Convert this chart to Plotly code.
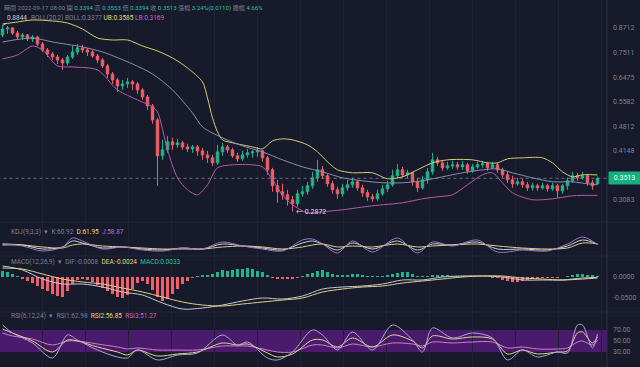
import math
import plotly.graph_objects as go

# ---------------- price data (4h candles) ----------------
idx = list(range(120))
open_ = [0.8352,0.8660,0.8712,0.8453,0.8252,0.8352,0.8153,0.8252,0.7910,0.7629,
         0.7447,0.7313,0.7182,0.7053,0.7313,0.7537,0.7721,0.7629,0.7537,0.7357,
         0.7182,0.6926,0.6599,0.6365,0.6138,0.6213,0.6288,0.6213,0.5992,0.5744,
         0.5440,0.4999,0.4023,0.4171,0.4378,0.4299,0.4351,0.4247,0.4196,0.4247,
         0.4146,0.4047,0.3975,0.3856,0.4121,0.4247,0.4171,0.4023,0.3951,0.4047,
         0.4096,0.4121,0.4146,0.3975,0.3697,0.3357,0.3238,0.3179,0.3085,0.3011,
         0.3199,0.3238,0.3357,0.3523,0.3697,0.3566,0.3398,0.3277,0.3199,0.3317,
         0.3377,0.3439,0.3317,0.3218,0.3141,0.3103,0.3199,0.3297,0.3377,0.3566,
         0.3697,0.3587,0.3631,0.3439,0.3317,0.3481,0.3653,0.3927,0.3856,0.3742,
         0.3787,0.3810,0.3764,0.3810,0.3675,0.3764,0.3810,0.3833,0.3742,0.3810,
         0.3697,0.3587,0.3481,0.3398,0.3439,0.3377,0.3317,0.3357,0.3317,0.3357,
         0.3297,0.3357,0.3257,0.3357,0.3460,0.3566,0.3523,0.3566,0.3419,0.3394]
close = [0.8660,0.8712,0.8453,0.8252,0.8352,0.8153,0.8252,0.7910,0.7629,0.7447,
         0.7313,0.7182,0.7053,0.7313,0.7537,0.7721,0.7629,0.7537,0.7357,0.7182,
         0.6926,0.6599,0.6365,0.6138,0.6213,0.6288,0.6213,0.5992,0.5744,0.5440,
         0.4999,0.4023,0.4171,0.4378,0.4299,0.4351,0.4247,0.4196,0.4247,0.4146,
         0.4047,0.3975,0.3856,0.4121,0.4247,0.4171,0.4023,0.3951,0.4047,0.4096,
         0.4121,0.4146,0.3975,0.3697,0.3357,0.3238,0.3179,0.3085,0.3011,0.3199,
         0.3238,0.3357,0.3523,0.3697,0.3566,0.3398,0.3277,0.3199,0.3317,0.3377,
         0.3439,0.3317,0.3218,0.3141,0.3103,0.3199,0.3297,0.3377,0.3566,0.3697,
         0.3587,0.3631,0.3439,0.3317,0.3481,0.3653,0.3927,0.3856,0.3742,0.3787,
         0.3810,0.3764,0.3810,0.3675,0.3764,0.3810,0.3833,0.3742,0.3810,0.3697,
         0.3587,0.3481,0.3398,0.3439,0.3377,0.3317,0.3357,0.3317,0.3357,0.3297,
         0.3357,0.3257,0.3357,0.3460,0.3566,0.3523,0.3566,0.3419,0.3357,0.3513]
high = [0.8844,0.8818,0.8765,0.8556,0.8453,0.8402,0.8352,0.8301,0.8006,0.7721,
        0.7537,0.7402,0.7269,0.7402,0.7815,0.7910,0.7862,0.7721,0.7629,0.7447,
        0.7269,0.7010,0.6680,0.6442,0.6365,0.6442,0.6365,0.6288,0.6065,0.5814,
        0.5506,0.5060,0.4431,0.4539,0.4485,0.4458,0.4404,0.4325,0.4299,0.4299,
        0.4222,0.4146,0.4047,0.4299,0.4351,0.4299,0.4222,0.4096,0.4146,0.4196,
        0.4171,0.4247,0.4171,0.4023,0.3742,0.3481,0.3398,0.3277,0.3160,0.3277,
        0.3357,0.3439,0.3653,0.3927,0.3787,0.3609,0.3460,0.3337,0.3398,0.3481,
        0.3523,0.3481,0.3377,0.3277,0.3199,0.3277,0.3377,0.3460,0.3697,0.3833,
        0.3764,0.3697,0.3653,0.3523,0.3566,0.3742,0.4096,0.3999,0.3927,0.3880,
        0.3903,0.3880,0.3903,0.3856,0.3833,0.3880,0.3903,0.3880,0.3880,0.3856,
        0.3742,0.3653,0.3566,0.3523,0.3502,0.3439,0.3419,0.3398,0.3419,0.3398,
        0.3419,0.3398,0.3398,0.3523,0.3653,0.3631,0.3653,0.3609,0.3481,0.3553]
low = [0.8252,0.8402,0.8352,0.8153,0.8103,0.8055,0.8006,0.7815,0.7537,0.7313,
       0.7182,0.7010,0.6761,0.6968,0.7225,0.7402,0.7492,0.7357,0.7269,0.7053,
       0.6843,0.6442,0.6213,0.5920,0.5992,0.6065,0.5992,0.5849,0.5641,0.5310,
       0.4880,0.3357,0.3927,0.4096,0.4171,0.4222,0.4171,0.4121,0.4096,0.4023,
       0.3927,0.3856,0.3787,0.3810,0.4023,0.4096,0.3975,0.3880,0.3903,0.3975,
       0.3975,0.3999,0.3880,0.3587,0.3238,0.3029,0.3085,0.2975,0.2872,0.2957,
       0.3141,0.3179,0.3297,0.3439,0.3502,0.3337,0.3199,0.3103,0.3141,0.3257,
       0.3317,0.3257,0.3141,0.3066,0.3048,0.3066,0.3160,0.3238,0.3337,0.3502,
       0.3523,0.3523,0.3357,0.3238,0.3277,0.3398,0.3587,0.3787,0.3675,0.3697,
       0.3720,0.3697,0.3697,0.3609,0.3631,0.3720,0.3742,0.3675,0.3720,0.3631,
       0.3523,0.3419,0.3317,0.3357,0.3317,0.3257,0.3257,0.3257,0.3277,0.3238,
       0.3257,0.3122,0.3199,0.3277,0.3419,0.3460,0.3481,0.3357,0.3277,0.3394]

# ---------------- BOLL(20,2) ----------------
ub_idx = [0,3,6,10,13,16,19,22,25,28,31,34,37,40,41,42,43,44,46,50,52,54,56,58,61,63,65,67,70,74,77,80,83,86,89,94,97,99,101,104,108,110,112,114,116,119]
ub_val = [0.8925,0.9035,0.9145,0.9089,0.8979,0.8660,0.8202,0.8103,0.8103,0.7815,0.7583,0.7269,0.6843,0.6288,0.5709,0.5060,0.4650,0.4431,0.4351,0.4247,0.4196,0.4404,0.4458,0.4431,0.4299,0.4121,0.3880,0.3697,0.3631,0.3631,0.3502,0.3544,0.3697,0.3856,0.3927,0.3927,0.3856,0.3856,0.3951,0.3975,0.3975,0.3856,0.3653,0.3544,0.3587,0.3585]
mid_idx = [0,6,10,16,20,26,30,34,38,40,44,48,52,56,60,64,68,72,76,80,84,88,92,96,99,102,106,110,114,117,119]
mid_val = [0.8006,0.8202,0.8006,0.7768,0.7537,0.7010,0.6599,0.5992,0.5215,0.4792,0.4485,0.4273,0.4121,0.3927,0.3764,0.3653,0.3523,0.3460,0.3419,0.3419,0.3460,0.3544,0.3631,0.3697,0.3720,0.3631,0.3523,0.3439,0.3439,0.3398,0.3377]
lb_idx = [0,3,6,8,11,14,19,23,27,30,31,33,35,37,39,41,43,46,50,52,54,56,58,61,64,68,74,80,84,87,90,93,96,98,100,102,106,110,114,119]
lb_val = [0.7225,0.7402,0.7815,0.7629,0.6926,0.6884,0.6761,0.5992,0.5641,0.5407,0.5247,0.4171,0.3523,0.3277,0.3179,0.3377,0.3742,0.3810,0.3810,0.3764,0.3481,0.3179,0.2993,0.2852,0.2869,0.2904,0.2975,0.3029,0.3103,0.3141,0.3179,0.3377,0.3587,0.3631,0.3419,0.3218,0.3085,0.3103,0.3160,0.3169]

# ---------------- KDJ(9,3,3) ----------------
kdj_idx = [0,4,8,12,14,16,20,24,28,32,36,40,44,48,52,56,60,62,64,67,70,74,79,83,86,90,95,99,104,109,113,116,119]
kdj_k = [61.5,56.8,37.9,47.4,75.6,66.2,42.6,47.4,37.9,33.2,42.6,37.9,61.5,52.1,42.6,33.2,66.2,75.6,61.5,33.2,66.2,37.9,75.6,33.2,61.5,56.8,70.9,37.9,37.9,33.2,52.1,80.3,60.92]
kdj_d = [56.8,56.8,47.4,42.6,56.8,61.5,52.1,47.4,42.6,37.9,37.9,37.9,47.4,52.1,47.4,37.9,47.4,56.8,61.5,47.4,52.1,47.4,61.5,47.4,52.1,56.8,61.5,52.1,42.6,37.9,42.6,66.2,61.95]
kdj_j = [61.5,52.1,28.5,47.4,89.7,75.6,37.9,47.4,33.2,28.5,42.6,37.9,70.9,52.1,37.9,28.5,80.3,85.0,61.5,19.1,75.6,23.8,89.7,19.1,70.9,52.1,80.3,23.8,33.2,28.5,61.5,94.4,58.87]

# ---------------- MACD(12,26,9) ----------------
macd_idx = [0,4,8,12,16,20,24,28,32,36,40,44,48,52,56,60,64,68,72,76,80,84,88,92,96,100,104,108,112,116,119]
dif = [0.0262,0.0167,-0.0048,-0.0167,-0.0167,-0.0238,-0.0357,-0.0429,-0.0619,-0.0762,-0.0738,-0.0667,-0.0571,-0.0500,-0.0524,-0.0452,-0.0286,-0.0238,-0.0214,-0.0167,-0.0071,-0.0071,0.0000,0.0024,0.0024,0.0000,-0.0071,-0.0071,-0.0071,-0.0024,-0.0008]
dea = [0.0214,0.0190,0.0071,-0.0048,-0.0119,-0.0167,-0.0262,-0.0357,-0.0476,-0.0595,-0.0667,-0.0690,-0.0643,-0.0595,-0.0548,-0.0500,-0.0357,-0.0286,-0.0238,-0.0214,-0.0143,-0.0095,-0.0048,0.0000,0.0024,0.0024,-0.0024,-0.0048,-0.0071,-0.0048,-0.0024]
macd_hist = [0.0143,0.0119,0.0071,0.0024,-0.0048,-0.0095,-0.0143,-0.0214,-0.0286,-0.0333,
             -0.0405,-0.0452,-0.0476,-0.0333,-0.0167,-0.0071,-0.0048,-0.0071,-0.0119,-0.0190,
             -0.0262,-0.0333,-0.0405,-0.0476,-0.0500,-0.0429,-0.0286,-0.0143,-0.0095,-0.0167,
             -0.0310,-0.0476,-0.0571,-0.0524,-0.0405,-0.0286,-0.0167,-0.0095,-0.0024,0.0024,
             0.0048,0.0048,0.0071,0.0119,0.0167,0.0143,0.0167,0.0190,0.0190,0.0214,
             0.0190,0.0143,0.0119,0.0048,-0.0024,-0.0048,-0.0048,-0.0048,-0.0048,-0.0024,
             0.0024,0.0071,0.0095,0.0143,0.0167,0.0119,0.0071,0.0048,0.0048,0.0048,
             0.0071,0.0071,0.0048,0.0024,0.0024,0.0024,0.0024,0.0048,0.0071,0.0095,
             0.0119,0.0119,0.0071,0.0024,0.0024,0.0024,0.0048,0.0048,0.0048,0.0048,
             0.0024,0.0024,0.0024,0.0012,0.0012,0.0012,0.0012,0.0012,-0.0012,-0.0024,
             -0.0071,-0.0095,-0.0119,-0.0119,-0.0095,-0.0071,-0.0048,-0.0048,-0.0024,-0.0012,
             -0.0012,-0.0012,0.0012,0.0024,0.0048,0.0071,0.0071,0.0048,0.0036,0.0033]

# ---------------- RSI(6,12,24) ----------------
rsi_idx = [0,2,6,10,13,15,19,23,25,27,31,35,39,44,47,49,53,55,58,62,64,67,70,74,78,82,84,86,90,94,98,101,104,107,111,113,115,116,118,119]
rsi1 = [79.1,64.5,46.4,19.1,60.9,51.8,33.6,20.9,19.1,33.6,15.5,24.5,28.2,60.9,42.7,48.2,19.1,15.5,30.0,70.0,60.9,33.6,66.4,33.6,79.1,51.8,30.0,73.6,55.5,64.5,55.5,15.5,33.6,20.9,30.0,28.2,79.1,79.1,37.3,62.98]
rsi2 = [71.8,64.5,50.0,30.0,51.8,50.0,39.1,30.0,24.5,33.6,22.7,26.4,30.0,46.4,42.7,44.5,28.2,20.9,26.4,51.8,51.8,39.1,55.5,39.1,60.9,50.0,37.3,59.1,53.6,57.3,53.6,26.4,33.6,26.4,30.0,31.8,64.5,66.4,46.4,56.85]
rsi3 = [64.5,59.1,53.6,42.7,50.0,50.0,44.5,39.1,35.5,37.3,33.6,33.6,33.6,40.9,40.9,40.9,33.6,30.0,30.0,42.7,42.7,37.3,44.5,39.1,46.4,44.5,40.9,48.2,46.4,48.2,48.2,37.3,39.1,35.5,35.5,37.3,48.2,50.0,42.7,51.27]

price_ticks = [0.8712, 0.7511, 0.6475, 0.5582, 0.4812, 0.4148, 0.3083]
macd_ticks = [0.0, -0.05]
rsi_ticks = [70, 50, 30]

# ---------------- styling ----------------
BG = "#161a2b"
UP = "#22b48a"
DN = "#ee5f69"
TXT = "#7b8098"
TEAL = "#2ac59a"
YEL = "#e6d777"
PINK = "#c668c2"
UB_C = "#d3cc74"
MID_C = "#8d8bb0"
LB_C = "#b65aa8"
FONT = "Roboto, Noto Sans CJK TC, sans-serif"
XDOM = [0, 0.9484]
H = 367.0

def py(p):  # pixel row -> paper y
    return 1 - p / H

fig = go.Figure()

fig.add_trace(go.Candlestick(
    x=idx, open=open_, high=high, low=low, close=close,
    increasing=dict(line=dict(color=UP, width=1), fillcolor=UP),
    decreasing=dict(line=dict(color=DN, width=1), fillcolor=DN),
    whiskerwidth=0, xaxis="x", yaxis="y", showlegend=False, hoverinfo="skip"))

for xs, ys, c in [(ub_idx, ub_val, UB_C), (mid_idx, mid_val, MID_C), (lb_idx, lb_val, LB_C)]:
    fig.add_trace(go.Scatter(x=xs, y=ys, mode="lines", xaxis="x", yaxis="y",
                             line=dict(color=c, width=1, shape="spline", smoothing=0.8),
                             showlegend=False, hoverinfo="skip"))

# last price dashed line
fig.add_trace(go.Scatter(x=[idx[0] - 1, idx[-1] + 2], y=[close[-1], close[-1]], mode="lines",
                         xaxis="x", yaxis="y", line=dict(color="#7f86a0", width=0.8, dash="dot"),
                         showlegend=False, hoverinfo="skip"))

# KDJ
for ys, c in [(kdj_k, "#cfd0dc"), (kdj_d, "#ddd38a"), (kdj_j, "#9f78c8")]:
    fig.add_trace(go.Scatter(x=kdj_idx, y=ys, mode="lines", xaxis="x2", yaxis="y2",
                             line=dict(color=c, width=1, shape="spline", smoothing=0.9),
                             showlegend=False, hoverinfo="skip"))

# MACD
fig.add_trace(go.Bar(x=idx, y=macd_hist, xaxis="x3", yaxis="y3", width=0.55,
                     marker=dict(color=[UP if v >= 0 else DN for v in macd_hist], line=dict(width=0)),
                     showlegend=False, hoverinfo="skip"))
for ys, c in [(dif, "#c9c9d6"), (dea, "#ddd38a")]:
    fig.add_trace(go.Scatter(x=macd_idx, y=ys, mode="lines", xaxis="x3", yaxis="y3",
                             line=dict(color=c, width=1, shape="spline", smoothing=0.9),
                             showlegend=False, hoverinfo="skip"))

# RSI
for ys, c in [(rsi3, "#d47ac8"), (rsi2, "#e4d58c"), (rsi1, "#a3a9d2")]:
    fig.add_trace(go.Scatter(x=rsi_idx, y=ys, mode="lines", xaxis="x4", yaxis="y4",
                             line=dict(color=c, width=1, shape="spline", smoothing=0.9),
                             showlegend=False, hoverinfo="skip"))

xcommon = dict(domain=XDOM, range=[-0.5, 120.9], showticklabels=False, showgrid=True,
               gridcolor="#1d2134", dtick=8.6, tick0=8.0, zeroline=False, fixedrange=True)
ycommon = dict(side="right", showgrid=False, zeroline=False, ticks="",
               tickfont=dict(family=FONT, size=7, color=TXT), ticklabelstandoff=5)

fig.update_layout(
    width=640, height=367, margin=dict(l=0, r=0, t=0, b=0),
    paper_bgcolor=BG, plot_bgcolor=BG, bargap=0,
    xaxis=dict(anchor="y", rangeslider=dict(visible=False), **xcommon),
    xaxis2=dict(anchor="y2", matches="x", **xcommon),
    xaxis3=dict(anchor="y3", matches="x", **xcommon),
    xaxis4=dict(anchor="y4", matches="x", **xcommon),
    yaxis=dict(anchor="x", type="log", domain=[py(222), 1], range=[-0.5691, 0.0136],
               tickvals=price_ticks, ticktext=[f"{v:.4f}" for v in price_ticks], **ycommon),
    yaxis2=dict(anchor="x2", domain=[py(256), py(222)], range=[5, 165], showticklabels=False,
                side="right", showgrid=False, zeroline=False),
    yaxis3=dict(anchor="x3", domain=[py(312), py(256)], range=[-0.0833, 0.05],
                tickvals=macd_ticks, ticktext=[f"{v:.4f}" for v in macd_ticks], **ycommon),
    yaxis4=dict(anchor="x4", domain=[0, py(312)], range=[2.7, 102.7],
                tickvals=rsi_ticks, ticktext=[f"{v:.2f}" for v in rsi_ticks], **ycommon),
)

shapes = [
    dict(type="rect", xref="paper", yref="y4", x0=0, x1=XDOM[1], y0=30, y1=70,
         fillcolor="#4a1b6c", line=dict(width=0), layer="below"),
    dict(type="line", xref="paper", yref="paper", x0=XDOM[1], x1=XDOM[1], y0=0, y1=1,
         line=dict(color="#2f344a", width=1)),
]
for p in (222, 256, 312):
    shapes.append(dict(type="line", xref="paper", yref="paper", x0=0, x1=1, y0=py(p), y1=py(p),
                       line=dict(color="#23273a", width=1)))
fig.update_layout(shapes=shapes)

def s(t, c):
    return f"<span style='color:{c}'>{t}</span>"

ann = []
def legend(px, pyy, html, size=6.5):
    ann.append(dict(xref="paper", yref="paper", x=px / 640, y=py(pyy), xanchor="left", yanchor="middle",
                    text=html, showarrow=False, font=dict(family=FONT, size=size, color=TXT)))

legend(2, 8, s("時間", TXT) + " " + s("2022-09-17 08:00", TXT) + " " + s("開", TXT) + " " + s("0.3394", TEAL)
       + " " + s("高", TXT) + " " + s("0.3553", TEAL) + " " + s("低", TXT) + " " + s("0.3394", TEAL)
       + " " + s("收", TXT) + " " + s("0.3513", TEAL) + " " + s("漲幅", TXT) + " " + s("3.24%(0.0110)", TEAL)
       + " " + s("振幅", TXT) + " " + s("4.66%", TEAL), size=6.1)
legend(29, 18, s("BOLL(20,2)", TXT) + " " + s("BOLL:0.3377", TXT) + " " + s("UB:0.3585", YEL)
       + " " + s("LB:0.3169", PINK))
legend(9, 232, s("KDJ(9,3,3)", TXT) + "  ▾  " + s("K:60.92", TXT) + "  " + s("D:61.95", YEL)
       + "  " + s("J:58.87", "#a77ad0"))
legend(9, 262, s("MACD(12,26,9)", TXT) + "  ▾  " + s("DIF:-0.0008", TXT) + "  " + s("DEA:-0.0024", YEL)
       + "  " + s("MACD:0.0033", TEAL))
legend(9, 316, s("RSI(6,12,24)", TXT) + "  ▾  " + s("RSI1:62.98", TXT) + "  " + s("RSI2:56.85", YEL)
       + "  " + s("RSI3:51.27", PINK))

# max / min markers
ann.append(dict(xref="x", yref="y", x=idx[0], y=math.log10(high[0]), text="0.8844",
                showarrow=True, arrowhead=0, arrowwidth=0.8, arrowcolor="#c9cad6", ax=14, ay=-8,
                xanchor="center", yanchor="middle",
                font=dict(family=FONT, size=6.5, color="#c9cad6")))
imin = low.index(min(low))
ann.append(dict(xref="x", yref="y", x=idx[imin], y=math.log10(low[imin]), text="← " + f"{low[imin]:.4f}",
                showarrow=False, xanchor="left", yanchor="middle", xshift=2,
                font=dict(family=FONT, size=7, color="#d6d7e2")))
# last price tag
ann.append(dict(xref="paper", yref="y", x=XDOM[1] + 0.002, y=math.log10(close[-1]), text=f"{close[-1]:.4f}",
                showarrow=False, xanchor="left", yanchor="middle", bgcolor="#16b07f", borderpad=2,
                width=27, font=dict(family=FONT, size=7, color="#ffffff")))
fig.update_layout(annotations=ann, font=dict(family=FONT))

fig.write_html("out.html", config={"displayModeBar": False, "staticPlot": True},
               post_script="document.body.style.margin='0';document.body.style.overflow='hidden';")
